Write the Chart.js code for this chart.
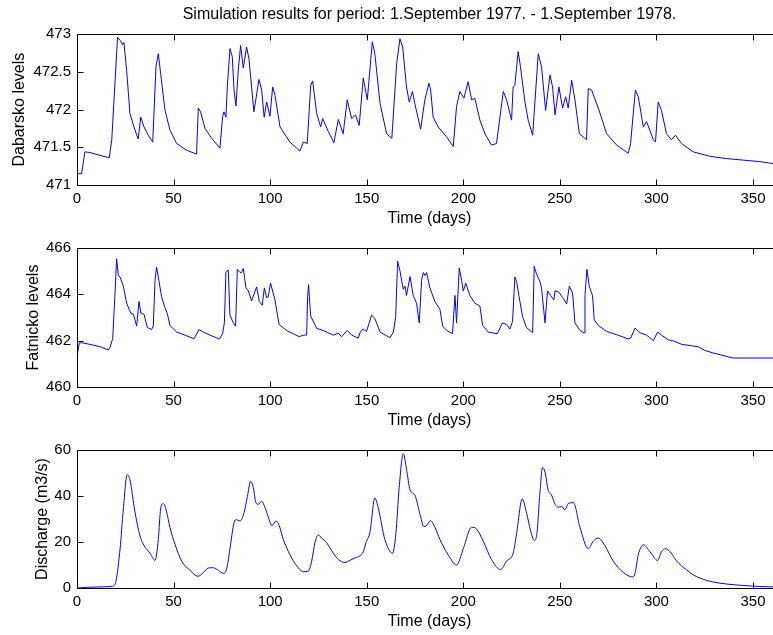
<!DOCTYPE html>
<html>
<head>
<meta charset="utf-8">
<script src="https://cdn.jsdelivr.net/npm/chart.js@4.4.1/dist/chart.umd.min.js"></script>
<style>
  html, body { margin: 0; padding: 0; background: #fff; width: 773px; height: 635px; overflow: hidden; }
  canvas { position: absolute; left: 0; }
</style>
</head>
<body>
<canvas id="dabChart" width="790" height="233" style="top:0px"></canvas>
<canvas id="fatChart" width="790" height="202" style="top:233px"></canvas>
<canvas id="disChart" width="790" height="201" style="top:435px"></canvas>
<script>
// Simulation results, 1.9.1977 - 1.9.1978
const titleText = 'Simulation results for period: 1.September 1977. - 1.September 1978.';
const xTitle = 'Time (days)';
const xTicks = [0, 50, 100, 150, 200, 250, 300, 350];

const dabDays = [
    0, 2.4, 4.1, 6.7, 16.7, 18, 21, 22.3, 23.6, 24.3,
    25.7, 27.4, 30, 31.7, 33, 34.7, 36.9, 39.2, 40.9, 42.1,
    43.3, 45.5, 48.1, 51.6, 56.8, 61.9, 62.8, 64, 66.3, 69.7,
    74, 75.4, 76.1, 77.1, 77.8, 79.2, 80.4, 81.3, 82.3, 83.5,
    84.7, 86.1, 87.8, 89, 90.4, 91.6, 94.2, 95.6, 96.9, 98.2,
    99.9, 101.3, 102.5, 105.1, 110.2, 115.4, 117.2, 119.2, 121, 122,
    124.1, 126.1, 127.2, 130.1, 133, 135.3, 137.8, 139.9, 142.2, 144.2,
    146.1, 148.2, 150.3, 152.9, 154.2, 156.9, 160.3, 163, 165.5, 167.2,
    168.6, 170.6, 172, 173.7, 174.9, 177.9, 180.1, 182.2, 183.1, 184.4,
    187, 191.3, 194.8, 196.5, 198.2, 200.3, 202.5, 204.3, 206, 208.6,
    211.2, 214.6, 217.2, 220.7, 222.4, 225, 225.8, 226.7, 228.4, 229.6,
    231.9, 233.6, 235.9, 238.8, 240.5, 242.6, 244.9, 246.2, 247.5, 249.5,
    251.4, 253, 254.3, 256.1, 257.8, 260.1, 263.8, 264.7, 266.4, 269.9,
    274.2, 279.4, 285.4, 286.6, 289.1, 290.6, 293.2, 294.9, 298.4, 299.5,
    300.9, 302.6, 305.2, 307.8, 309.9, 313, 319, 327.7, 336.3, 344.9,
    353.5, 358.7, 365
];
const dabLevels = [
    471.15, 471.15, 471.44, 471.43, 471.36, 471.6, 472.96, 472.92, 472.86, 472.89,
    472.52, 471.95, 471.73, 471.61, 471.9, 471.77, 471.66, 471.57, 472.57, 472.74,
    472.48, 472.0, 471.73, 471.55, 471.46, 471.41, 472.02, 471.97, 471.75, 471.62,
    471.49, 471.91, 471.97, 471.9, 472.3, 472.81, 472.7, 472.26, 472.05, 472.52,
    472.85, 472.55, 472.83, 472.68, 472.3, 471.97, 472.4, 472.26, 471.9, 472.1,
    471.91, 472.3, 472.19, 471.77, 471.57, 471.45, 471.57, 471.55, 472.32, 472.38,
    471.95, 471.77, 471.88, 471.71, 471.56, 471.87, 471.68, 472.13, 471.88, 471.93,
    471.79, 472.42, 472.13, 472.9, 472.74, 472.08, 471.68, 471.62, 472.61, 472.94,
    472.83, 472.3, 472.1, 472.24, 472.08, 471.74, 472.13, 472.35, 472.26, 471.9,
    471.77, 471.64, 471.51, 472.04, 472.24, 472.15, 472.37, 472.13, 472.15, 471.86,
    471.68, 471.53, 471.55, 472.24, 472.13, 471.86, 472.3, 472.32, 472.77, 472.57,
    472.1, 471.86, 471.66, 472.74, 472.57, 471.99, 472.46, 472.3, 471.93, 472.3,
    472.02, 472.17, 472.02, 472.39, 472.13, 471.68, 471.6, 472.28, 472.26, 472.02,
    471.68, 471.53, 471.42, 471.55, 472.26, 472.17, 471.77, 471.84, 471.6, 471.57,
    472.1, 471.99, 471.68, 471.6, 471.66, 471.55, 471.44, 471.38, 471.35, 471.33,
    471.31, 471.29, 471.27
];
const dabTicks = [471, 471.5, 472, 472.5, 473];

const fatDays = [
    0, 1.2, 2.4, 6.7, 11.9, 16.2, 17.1, 18.5, 19.7, 20.5,
    21.4, 22.3, 24, 25.7, 27.8, 29.2, 30.9, 32.1, 33.1, 34.7,
    36.4, 38.6, 39.5, 40.4, 41.2, 42.1, 43.8, 45.5, 46.8, 48.1,
    51.6, 55.9, 60.6, 63.1, 65.4, 68.8, 73.7, 75.4, 76.3, 77.1,
    78.3, 79.2, 80.9, 82.1, 83, 84.4, 85.2, 86.1, 87.5, 88.7,
    90.4, 93, 94.4, 95.9, 97, 98.2, 99, 100.2, 102.5, 104.6,
    108.5, 115.1, 117.2, 118.9, 119.4, 119.9, 120.3, 121, 124.1, 127.5,
    132.7, 135.3, 137, 139.9, 142.2, 145.6, 146.8, 148.2, 149.9, 152.5,
    154.2, 156.9, 162, 163.8, 165, 166, 167.2, 168.9, 169.8, 170.6,
    172.4, 174.1, 175.8, 177.2, 178.4, 179.3, 180.1, 181, 182.7, 185.3,
    187.9, 189.3, 191.4, 194.4, 195.7, 196.5, 197.9, 199.1, 200, 201.3,
    203.4, 206, 208.6, 210, 212.9, 217.6, 220.3, 222.4, 224.1, 225.5,
    226.7, 227.6, 228.9, 230.7, 232.7, 235.9, 236.7, 237.9, 239.7, 240.5,
    242.3, 243.6, 245.2, 246.9, 247.5, 249.5, 251.8, 253.5, 254.9, 256.6,
    257.8, 260.4, 262.5, 263, 264, 265.2, 266.9, 267.8, 269.9, 274.2,
    279.4, 285.4, 286.6, 288.9, 291.5, 294.9, 298.4, 300.6, 302.6, 306,
    309.5, 313, 318.1, 321.6, 325, 329.3, 333.6, 339.7, 365
];
const fatLevels = [
    461.31, 461.91, 461.91, 461.84, 461.74, 461.6, 461.71, 462.1, 464.09, 465.54,
    464.81, 464.75, 464.35, 463.62, 463.19, 463.14, 462.63, 463.69, 463.19, 463.14,
    462.57, 462.48, 462.63, 464.61, 465.17, 464.75, 463.89, 463.43, 463.16, 462.66,
    462.37, 462.24, 462.08, 462.48, 462.37, 462.24, 462.07, 462.3, 462.77, 464.94,
    465.05, 463.1, 462.77, 462.63, 465.08, 464.94, 464.94, 465.12, 464.28, 464.15,
    463.72, 464.32, 463.69, 463.53, 464.28, 463.85, 463.89, 464.48, 463.76, 462.7,
    462.44, 462.17, 462.24, 462.24, 463.89, 464.42, 463.89, 463.06, 462.53, 462.44,
    462.24, 462.33, 462.17, 462.44, 462.24, 462.11, 462.4, 462.5, 462.4, 463.1,
    462.96, 462.37, 462.13, 462.37, 463.03, 465.43, 465.01, 464.22, 464.35, 463.95,
    464.77, 463.95, 463.62, 462.77, 464.61, 464.94, 464.81, 464.94, 464.28, 463.69,
    463.36, 462.63, 462.44, 462.3, 463.95, 462.77, 465.14, 464.61, 464.15, 464.48,
    463.95, 463.62, 463.49, 462.66, 462.37, 462.3, 462.77, 462.7, 462.5, 462.83,
    464.75, 464.55, 463.89, 463.03, 462.57, 462.34, 465.21, 464.88, 464.55, 464.28,
    462.77, 464.15, 463.95, 463.76, 464.15, 464.09, 463.82, 463.58, 464.35, 464.06,
    462.77, 462.44, 462.34, 463.95, 465.08, 464.35, 463.95, 462.9, 462.66, 462.4,
    462.26, 462.07, 462.11, 462.54, 462.34, 462.24, 462.0, 462.37, 462.24, 462.04,
    461.97, 461.84, 461.78, 461.74, 461.58, 461.47, 461.38, 461.25, 461.25
];
const fatTicks = [460, 462, 464, 466];

const disDays = [
    0, 5, 13.6, 18.5, 20.2, 22.3, 24, 26, 27.4, 30,
    32.6, 34.3, 37.8, 40.4, 42.1, 43.3, 44.7, 46.4, 48.1, 50.7,
    54.2, 58.5, 62.6, 65.4, 68, 70.6, 73.2, 75.7, 77.5, 79.2,
    81.3, 82.6, 84.4, 86.4, 88.2, 89.9, 91.3, 92.6, 93.9, 95.6,
    97.3, 99.2, 100.9, 103, 104.7, 106.8, 110.3, 113.7, 117.2, 119.7,
    121.5, 123.2, 124.9, 126.6, 129.2, 132.7, 135.3, 138.7, 141.3, 143.9,
    146.5, 148.2, 149.6, 151.7, 154.2, 155.9, 159.4, 163.4, 165.1, 166.8,
    168.9, 170.6, 172.4, 174.9, 177.5, 179.6, 180.9, 183, 185.3, 187.9,
    192.2, 196.5, 200, 204.3, 206.8, 210.3, 214.6, 219.3, 222.4, 225.8,
    227.6, 230.5, 232.8, 234.8, 236.7, 237.9, 239.7, 241, 242.3, 244,
    245.7, 247.5, 249.2, 250.9, 252.6, 254.4, 257, 260.4, 264.7, 267.3,
    269.9, 273.3, 277.6, 282.8, 287.7, 288.9, 290.6, 293.2, 296.7, 300.6,
    302.6, 304.7, 307.1, 310.5, 314.8, 319.1, 326, 332.9, 341.6, 350.2,
    358.8, 365
];
const discharge = [
    0, 0.27, 0.5, 0.8, 3.1, 17, 34.4, 49.3, 47.1, 33.1,
    22.7, 19.1, 15.1, 12, 21.1, 34.4, 36.7, 33.1, 26.4, 19.1,
    11.7, 7.7, 5.1, 6.7, 8.7, 8.8, 7.7, 6.4, 8.4, 17.1,
    28.4, 29.7, 29.1, 32.4, 39.7, 46.4, 43.7, 37.1, 36.4, 37.7,
    35.1, 30.4, 27.1, 29.1, 27.1, 21.1, 14.4, 9.7, 7.1, 7.3,
    11.7, 19.7, 23.1, 21.7, 19.7, 15.1, 12.4, 11.1, 12, 13.1,
    14, 15.7, 19.7, 24.4, 39.1, 35.1, 21.1, 15.1, 23.7, 43.7,
    58.4, 51.7, 42.7, 40.4, 32.4, 26.7, 27.1, 29.3, 26.4, 21.1,
    14.4, 10, 17.1, 26.4, 25.7, 20.4, 12.4, 8, 11.7, 15.1,
    23.7, 38.7, 32.4, 25.1, 20.7, 22.4, 41.7, 52.4, 50.4, 42.4,
    40.4, 36.4, 35.1, 35.5, 34, 36.8, 37.1, 26.4, 17.1, 20.4,
    21.7, 18.4, 11.7, 6.8, 4.8, 6.4, 14.4, 18.8, 15.7, 12,
    15.7, 17.1, 15.7, 11.7, 8.4, 5.7, 3.3, 2.1, 1.3, 0.8,
    0.5, 0.4
];
const disTicks = [0, 20, 40, 60];

const FONT = "'Liberation Sans', Arial, sans-serif";

// box around the plot area with inward tick marks, matlab style
const framePlugin = {
    id: 'frame',
    afterDraw(chart) {
        const ctx = chart.ctx;
        const a = chart.chartArea;
        const sx = chart.scales.x, sy = chart.scales.y;
        const L = Math.round(a.left) + 0.5, R = Math.round(a.right) + 0.5;
        const T = Math.round(a.top) + 0.5, B = Math.round(a.bottom) + 0.5;
        ctx.save();
        ctx.lineWidth = 1;
        ctx.strokeStyle = '#000';
        ctx.beginPath();
        ctx.moveTo(L, T); ctx.lineTo(R, T); ctx.lineTo(R, B); ctx.lineTo(L, B); ctx.closePath();
        sx.ticks.forEach(t => {
            const x = Math.round(sx.getPixelForValue(t.value)) + 0.5;
            ctx.moveTo(x, B); ctx.lineTo(x, B - 6);
            ctx.moveTo(x, T); ctx.lineTo(x, T + 6);
        });
        sy.ticks.forEach(t => {
            const y = Math.round(sy.getPixelForValue(t.value)) + 0.5;
            ctx.moveTo(L, y); ctx.lineTo(L + 6, y);
            ctx.moveTo(R, y); ctx.lineTo(R - 6, y);
        });
        ctx.stroke();
        ctx.restore();
    }
};

function makePanel(id, days, values, yTicks, yLabel, opts) {
    const points = days.map((d, i) => ({x: d, y: values[i]}));
    return new Chart(document.getElementById(id), {
        type: 'line',
        data: {
            datasets: [{
                data: points,
                borderColor: '#0000ff',
                borderWidth: 1,
                pointRadius: 0,
                fill: false,
                cubicInterpolationMode: opts.smooth ? 'monotone' : 'default',
                tension: 0
            }]
        },
        options: {
            responsive: false,
            animation: false,
            devicePixelRatio: 1,
            layout: { padding: { top: opts.padTop, right: 8, left: 0, bottom: 0 } },
            plugins: {
                legend: { display: false },
                tooltip: { enabled: false },
                title: {
                    display: !!opts.title,
                    text: opts.title || '',
                    fullSize: false,
                    color: '#000',
                    font: { family: FONT, size: 16, weight: 'normal' },
                    padding: { top: 5, bottom: 10 }
                }
            },
            scales: {
                x: {
                    type: 'linear',
                    min: 0,
                    max: 365,
                    afterBuildTicks: s => { s.ticks = xTicks.map(v => ({value: v})); },
                    afterFit: s => { s.height = 48; },
                    grid: { display: false, drawTicks: false },
                    border: { display: false },
                    ticks: { color: '#000', padding: 5, maxRotation: 0, font: { family: FONT, size: 15 }, callback: v => String(v) },
                    title: { display: true, text: xTitle, color: '#000', font: { family: FONT, size: 16 }, padding: { top: 0, bottom: 4.4 } }
                },
                y: {
                    min: yTicks[0],
                    max: yTicks[yTicks.length - 1],
                    afterBuildTicks: s => { s.ticks = yTicks.map(v => ({value: v})); },
                    afterFit: s => { s.width = 77; },
                    grid: { display: false, drawTicks: false },
                    border: { display: false },
                    ticks: { color: '#000', padding: 6, font: { family: FONT, size: 15 }, callback: v => String(v) },
                    title: { display: true, text: yLabel, color: '#000', font: { family: FONT, size: 16 }, padding: { top: opts.yTitlePad, bottom: 0 } }
                }
            }
        },
        plugins: [framePlugin]
    });
}

makePanel('dabChart', dabDays, dabLevels, dabTicks, 'Dabarsko levels', { title: titleText, padTop: 0, yTitlePad: 10.4 });
makePanel('fatChart', fatDays, fatLevels, fatTicks, 'Fatnicko levels', { padTop: 2, yTitlePad: 24 });
makePanel('disChart', disDays, discharge, disTicks, 'Discharge (m3/s)', { padTop: 3, yTitlePad: 33.4, smooth: true });
</script>
</body>
</html>
